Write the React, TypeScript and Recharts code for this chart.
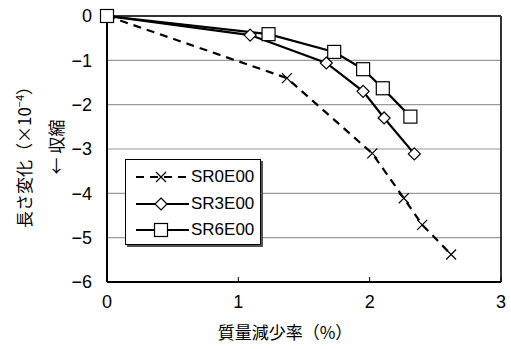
import React from "react";
import {
  CartesianGrid,
  Line,
  LineChart,
  ReferenceLine,
  XAxis,
  YAxis,
} from "recharts";

// 質量減少率 (%) と 長さ変化 (×10^-4)
const sr0Loss = [0, 1.37, 2.02, 2.26, 2.4, 2.62];
const sr0Len = [0, -1.4, -3.1, -4.11, -4.71, -5.38];
const sr3Loss = [0, 1.09, 1.67, 1.95, 2.11, 2.34];
const sr3Len = [0, -0.43, -1.06, -1.7, -2.3, -3.11];
const sr6Loss = [0, 1.23, 1.73, 1.95, 2.1, 2.31];
const sr6Len = [0, -0.41, -0.81, -1.2, -1.63, -2.27];

const xTicks = [0, 1, 2, 3];
const yTicks = [0, -1, -2, -3, -4, -5, -6];

const toPoints = (xs: number[], ys: number[]) =>
  xs.map((x, i) => ({ x, y: ys[i] }));

const sr0 = toPoints(sr0Loss, sr0Len);
const sr3 = toPoints(sr3Loss, sr3Len);
const sr6 = toPoints(sr6Loss, sr6Len);

const NUM_FONT = "'Liberation Sans', Arial, sans-serif";
const JP_FONT = "'Noto Sans CJK JP', sans-serif";

const Cross = ({ cx, cy }: any) => (
  <path
    d={`M${cx - 5},${cy - 5}L${cx + 5},${cy + 5}M${cx - 5},${cy + 5}L${cx + 5},${cy - 5}`}
    stroke="#000"
    strokeWidth={1.2}
    fill="none"
  />
);

const Diamond = ({ cx, cy }: any) => (
  <path
    d={`M${cx},${cy - 6}L${cx + 6},${cy}L${cx},${cy + 6}L${cx - 6},${cy}Z`}
    stroke="#000"
    strokeWidth={1.2}
    fill="#fff"
  />
);

const Square = ({ cx, cy }: any) => (
  <rect
    x={cx - 6.5}
    y={cy - 6.5}
    width={13}
    height={13}
    stroke="#000"
    strokeWidth={1.2}
    fill="#fff"
  />
);

const legendRows = [
  { name: "SR0E00", dash: "8 6", Marker: Cross },
  { name: "SR3E00", dash: undefined, Marker: Diamond },
  { name: "SR6E00", dash: undefined, Marker: Square },
];

const LegendBox = () => (
  <div
    style={{
      position: "absolute",
      left: 125,
      top: 159,
      width: 136,
      height: 86,
      background: "#fff",
      border: "1px solid #000",
      boxShadow: "2px 2px 0 #555",
      boxSizing: "border-box",
      paddingTop: 4,
    }}
  >
    {legendRows.map(({ name, dash, Marker }) => (
      <div
        key={name}
        style={{ display: "flex", alignItems: "center", height: 26.5 }}
      >
        <svg width={62} height={20} style={{ marginLeft: 2 }}>
          <line
            x1={8}
            y1={10}
            x2={61}
            y2={10}
            stroke="#000"
            strokeWidth={2.2}
            strokeDasharray={dash}
          />
          <Marker cx={33} cy={10} />
        </svg>
        <span style={{ fontFamily: NUM_FONT, fontSize: 17, marginLeft: 1 }}>
          {name}
        </span>
      </div>
    ))}
  </div>
);

const YLabel = () => (
  <g fontFamily={JP_FONT} fontSize={17} fill="#000">
    <text x={31} y={153} transform="rotate(-90 31 153)" textAnchor="middle">
      長さ変化（×10
      <tspan fontSize={11} dy={-7}>
        −4
      </tspan>
      <tspan dy={7}>）</tspan>
    </text>
    <text x={63} y={147} transform="rotate(-90 63 147)" textAnchor="middle">
      ← 収縮
    </text>
  </g>
);

const XLabel = () => (
  <text
    x={285}
    y={339}
    textAnchor="middle"
    fontFamily={JP_FONT}
    fontSize={17}
    fill="#000"
  >
    質量減少率（%）
  </text>
);

const fmt = (v: number) => String(v).replace("-", "−");

export default function App() {
  return (
    <div style={{ position: "absolute", left: 0, top: 0, width: 511, height: 349 }}>
      <LineChart
        width={511}
        height={349}
        margin={{ top: 16, right: 10, left: 0, bottom: 0 }}
      >
        <CartesianGrid
          vertical={false}
          horizontal
          stroke="#9a9a9a"
          strokeWidth={1.2}
        />
        <XAxis
          type="number"
          dataKey="x"
          domain={[0, 3]}
          ticks={xTicks}
          height={67}
          axisLine={{ stroke: "#000", strokeWidth: 2 }}
          tickLine={{ stroke: "#000", strokeWidth: 1 }}
          tickSize={-5}
          tickMargin={18}
          tick={{ fill: "#000", fontSize: 18, fontFamily: NUM_FONT }}
          label={{ content: () => <XLabel /> }}
        />
        <YAxis
          type="number"
          dataKey="y"
          domain={[-6, 0]}
          ticks={yTicks}
          width={107}
          axisLine={{ stroke: "#000", strokeWidth: 2 }}
          tickLine={false}
          tickSize={0}
          tickMargin={15}
          tickFormatter={fmt}
          tick={{ fill: "#000", fontSize: 18, fontFamily: NUM_FONT }}
          label={{ content: () => <YLabel /> }}
        />
        <ReferenceLine y={0} stroke="#333" strokeWidth={2} />
        <ReferenceLine x={3} stroke="#333" strokeWidth={2} />
        <Line
          data={sr0}
          dataKey="y"
          name="SR0E00"
          stroke="#000"
          strokeWidth={2.2}
          strokeDasharray="8 6"
          dot={<Cross />}
          isAnimationActive={false}
        />
        <Line
          data={sr3}
          dataKey="y"
          name="SR3E00"
          stroke="#000"
          strokeWidth={2.2}
          dot={<Diamond />}
          isAnimationActive={false}
        />
        <Line
          data={sr6}
          dataKey="y"
          name="SR6E00"
          stroke="#000"
          strokeWidth={2.2}
          dot={<Square />}
          isAnimationActive={false}
        />
      </LineChart>
      <LegendBox />
    </div>
  );
}
